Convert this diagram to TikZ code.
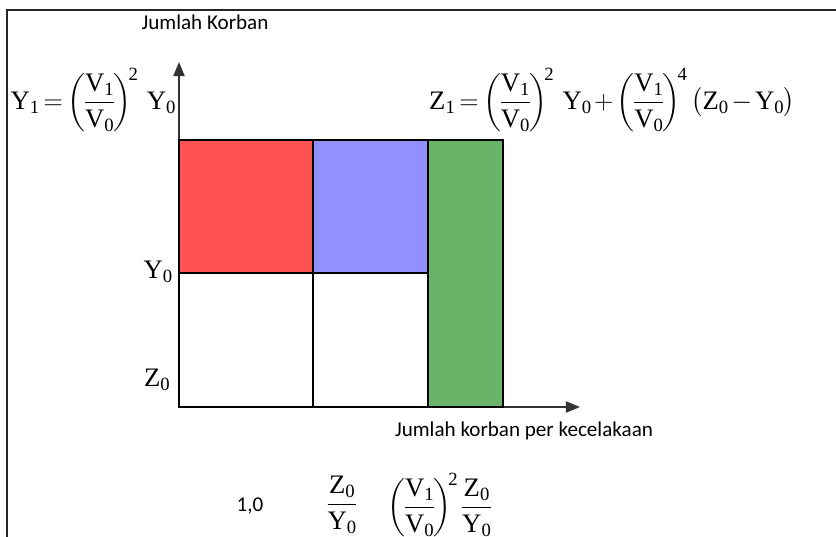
\documentclass[tikz,border=0pt]{standalone}
\usepackage{fix-cm}
\usepackage{amsmath}
\usepackage{fontspec}
\setmainfont{Liberation Serif}
\newfontfamily\calibri{Carlito}
\usetikzlibrary{positioning, arrows.meta}

\definecolor{cellred}{HTML}{FF5252}
\definecolor{cellblue}{HTML}{9090FF}
\definecolor{cellgreen}{HTML}{6AB46A}

\newcommand{\sym}[2]{\text{#1}_{\text{#2}}}
\newcommand{\vratio}{\left(\dfrac{\sym{V}{1}}{\sym{V}{0}}\right)}
\newcommand{\zyratio}{\dfrac{\sym{Z}{0}}{\sym{Y}{0}}}

\begin{document}
\begin{tikzpicture}[x=0.025cm, y=-0.025cm,
    axislabel/.style={font=\calibri\fontsize{15}{17}\selectfont, inner sep=0pt},
    eqn/.style={font=\fontsize{19}{22}\selectfont, inner sep=0pt,
      execute at begin node={\thickmuskip=3mu\medmuskip=2mu\nulldelimiterspace=0pt\scriptspace=0pt}},
    cell/.style={draw=black, line width=1.4pt},
    axis/.style={line width=1pt, draw=black!80, -{Triangle[length=10pt, width=8pt]}}]
    \useasboundingbox (0,0) rectangle (836,537);
    \clip (0,0) rectangle (836,537);
    % frame
    \draw[line width=1.4pt, black!85] (7,600) -- (7,10) -- (900,10);
    % axes
    \coordinate (O) at (179,407);
    \coordinate (ytip) at (179,62);
    \coordinate (xtip) at (580,407);
    \draw[axis] (O) -- (ytip);
    \draw[axis] (O) -- (xtip);
    % cells
    \filldraw[cell, fill=cellred] (179,140) rectangle (313,273);
    \filldraw[cell, fill=cellblue] (313,140) rectangle (428,273);
    \filldraw[cell, fill=white] (179,273) rectangle (313,407);
    \filldraw[cell, fill=white] (313,273) rectangle (428,407);
    \filldraw[cell, fill=cellgreen] (428,140) rectangle (503,407);
    % labels
    \node[axislabel] (ylabel) at (205,22) {Jumlah Korban};
    \node[axislabel] (xlabel) at (524,431) {Jumlah korban per kecelakaan};
    \node[eqn] (yzero) at (158,272) {$\sym{Y}{0}$};
    \node[eqn] (zzero) at (157,380) {$\sym{Z}{0}$};
    \node[eqn] (yone) at (93,100) {$\sym{Y}{1}=\vratio^{\!\text{2}}\,\sym{Y}{0}$};
    \node[eqn] (zone) at (612,100) {$\sym{Z}{1}=\vratio^{\!\text{2}}\,\sym{Y}{0}+\vratio^{\!\text{4}}\bigl(\sym{Z}{0}-\sym{Y}{0}\bigr)$};
    \node[axislabel] (one) at (250,506) {1,0};
    \node[eqn] (ratioa) at (342,505) {$\zyratio$};
    \node[eqn] (ratiob) at (439,505) {$\vratio^{\!\text{2}}\zyratio$};
\end{tikzpicture}
\end{document}
